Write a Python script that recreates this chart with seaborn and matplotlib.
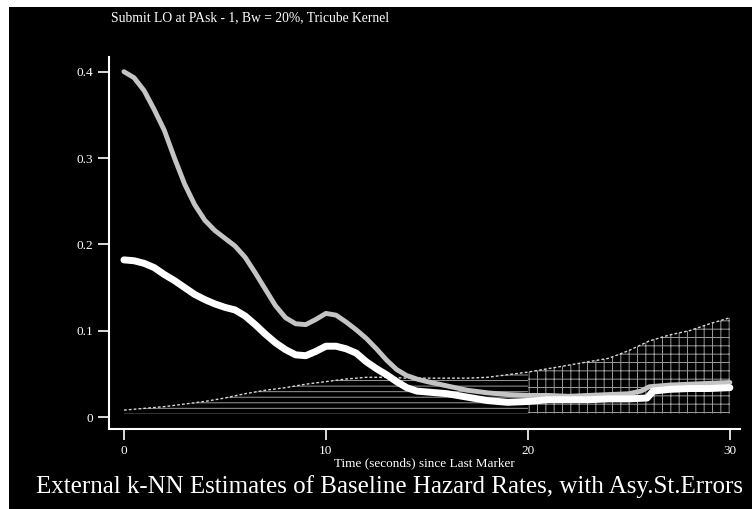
import matplotlib
matplotlib.use("Agg")
import matplotlib.pyplot as plt
import seaborn as sns
import pandas as pd
import numpy as np

# ---- data ----
x_upper = [0, 0.5, 1, 1.5, 2, 2.5, 3, 3.5, 4, 4.5, 5, 5.5, 6, 6.5, 7, 7.5, 8, 8.5, 9, 9.5,
           10, 10.5, 11, 11.5, 12, 12.5, 13, 13.5, 14, 14.5, 15, 16, 17, 18, 19, 20,
           21, 22, 23, 24, 25, 25.6, 26, 27, 28, 29, 30]
upper = [0.400, 0.393, 0.378, 0.356, 0.332, 0.300, 0.270, 0.246, 0.228, 0.216, 0.207, 0.198,
         0.185, 0.167, 0.148, 0.129, 0.115, 0.108, 0.107, 0.113, 0.120, 0.118, 0.110, 0.101,
         0.091, 0.079, 0.066, 0.055, 0.048, 0.044, 0.041, 0.036, 0.031, 0.028, 0.026, 0.025,
         0.025, 0.024, 0.025, 0.026, 0.027, 0.030, 0.035, 0.037, 0.038, 0.039, 0.040]

x_est = [0, 0.5, 1, 1.5, 2, 2.5, 3, 3.5, 4, 4.5, 5, 5.5, 6, 6.5, 7, 7.5, 8, 8.5, 9, 9.5,
         10, 10.5, 11, 11.5, 12, 12.5, 13, 13.5, 14, 14.5, 15, 16, 17, 18, 19,
         20, 21, 22, 23, 24, 25, 25.9, 26.2, 27, 28, 29, 30]
est = [0.182, 0.181, 0.178, 0.173, 0.165, 0.158, 0.150, 0.142, 0.136, 0.131, 0.127, 0.124,
       0.117, 0.107, 0.096, 0.086, 0.078, 0.072, 0.071, 0.076, 0.082, 0.082, 0.079, 0.074,
       0.064, 0.056, 0.049, 0.041, 0.034, 0.030, 0.029, 0.027, 0.023, 0.019, 0.017,
       0.018, 0.020, 0.020, 0.020, 0.021, 0.021, 0.022, 0.030, 0.032, 0.033, 0.033, 0.034]

x_band = [0, 1, 2, 3, 4, 5, 6, 7, 8, 9, 10, 11, 12, 13, 14, 15, 16, 17, 18, 19, 20,
          21, 22, 23, 24, 25, 26, 27, 28, 29, 30]
band_hi = [0.008, 0.010, 0.012, 0.015, 0.018, 0.022, 0.027, 0.031, 0.034, 0.038, 0.041,
           0.044, 0.046, 0.046, 0.045, 0.045, 0.045, 0.045, 0.046, 0.049, 0.052,
           0.056, 0.060, 0.064, 0.068, 0.077, 0.088, 0.095, 0.100, 0.108, 0.115]
band_lo = [0.004] * len(x_band)

x_ticks = [0, 10, 20, 30]
x_ticklabels = ["0", "10", "20", "30"]
y_ticks = [0, 0.1, 0.2, 0.3, 0.4]
y_ticklabels = ["0", "0.1", "0.2", "0.3", "0.4"]

top_text = "Submit LO at PAsk - 1, Bw = 20%, Tricube Kernel"
x_label = "Time (seconds) since Last Marker"
caption = "External k-NN Estimates of Baseline Hazard Rates, with Asy.St.Errors"

# ---- style ----
sns.set_style("dark")
plt.rcParams['font.family'] = ['Liberation Serif', 'DejaVu Serif']
plt.rcParams['hatch.linewidth'] = 0.7

fig = plt.figure(figsize=(7.52, 5.09), dpi=100, facecolor="white")
# black scanned page area (white margin on left and top)
bg = plt.Rectangle((9 / 752, 0), 1, 1 - 7 / 509, transform=fig.transFigure,
                   facecolor="black", edgecolor="none", zorder=-10)
fig.patches.append(bg)

ax = fig.add_axes([109 / 752, (509 - 429) / 509, (740 - 109) / 752, (429 - 57) / 509])
ax.set_zorder(1)
ax.set_facecolor("black")

df_band = pd.DataFrame({"x": x_band, "lo": band_lo, "hi": band_hi})
left = df_band[df_band.x <= 20]
right = df_band[df_band.x >= 20]
ax.fill_between(left.x, left.lo, left.hi, facecolor="none", edgecolor="#9a9a9a",
                hatch="---", linewidth=0, zorder=1)
ax.fill_between(right.x, right.lo, right.hi, facecolor="none", edgecolor="#9a9a9a",
                hatch="++", linewidth=0, zorder=1)
ax.plot(df_band.x, df_band.hi, color="#d8d8d8", lw=1.0, ls=(0, (2, 1.5)), zorder=2)

df_up = pd.DataFrame({"x": x_upper, "y": upper})
df_est = pd.DataFrame({"x": x_est, "y": est})
sns.lineplot(data=df_up, x="x", y="y", ax=ax, color="#c4c4c4", lw=3.5, zorder=3,
             solid_capstyle="round", solid_joinstyle="round")
sns.lineplot(data=df_est, x="x", y="y", ax=ax, color="white", lw=5, zorder=4,
             solid_capstyle="round", solid_joinstyle="round")

ax.set_xlim(-0.74, 30.5)
ax.set_ylim(-0.0139, 0.417)
ax.set_xticks(x_ticks)
ax.set_xticklabels(x_ticklabels)
ax.set_yticks(y_ticks)
ax.set_yticklabels(y_ticklabels)
ax.tick_params(colors="white", labelcolor="white", labelsize=9.5, length=8, width=1.2,
               direction="out", bottom=True, left=True)
ax.set_xlabel(x_label, color="white", fontsize=9.5, labelpad=0)
ax.set_ylabel("")
ax.grid(False)
for s in ["top", "right"]:
    ax.spines[s].set_visible(False)
for s in ["left", "bottom"]:
    ax.spines[s].set_visible(True)
    ax.spines[s].set_color("white")
    ax.spines[s].set_linewidth(1.5)

fig.text(250 / 752, 1 - 18 / 509, top_text, color="white", fontsize=9.8, ha="center", va="center")
fig.text(390 / 752, 1 - 487 / 509, caption, color="white", fontsize=18, ha="center", va="center")

fig.savefig("out.png", dpi=100, facecolor=fig.get_facecolor())
